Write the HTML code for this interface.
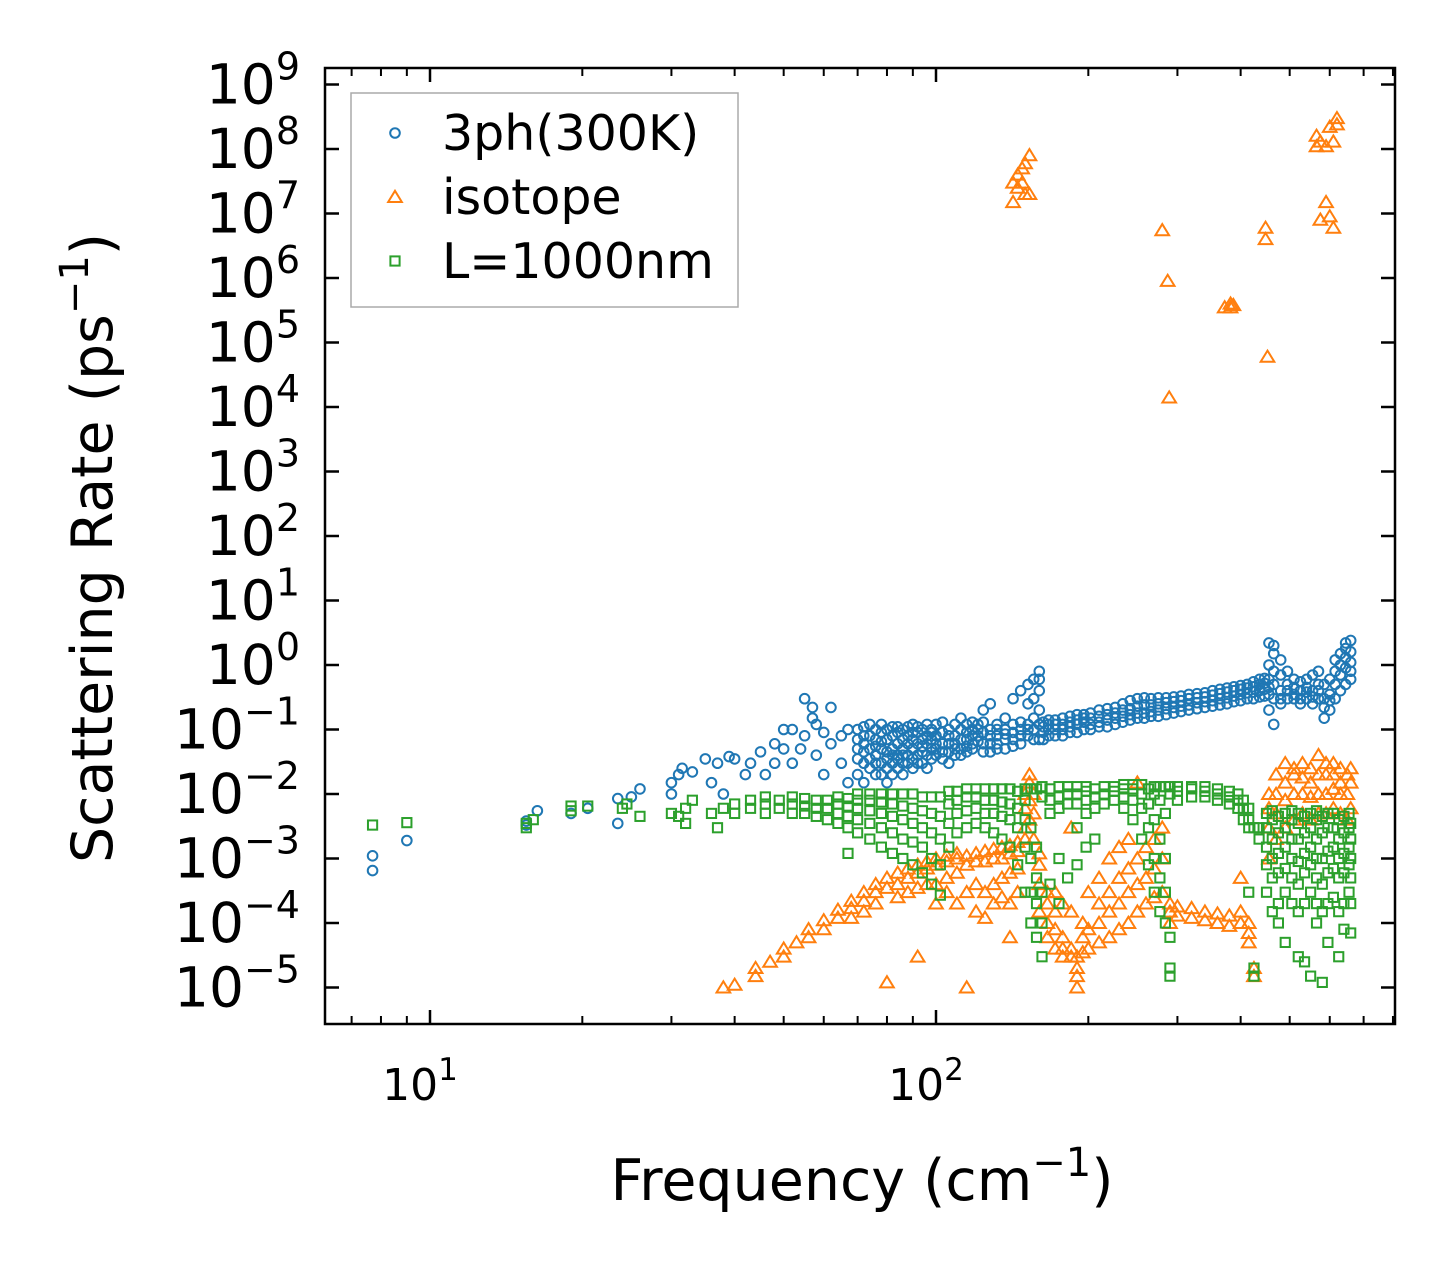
<!DOCTYPE html>
<html><head><meta charset="utf-8">
<style>
html,body{margin:0;padding:0;background:#fff;}
svg{display:block;font-family:"DejaVu Sans","Liberation Sans",sans-serif;}
</style></head>
<body>
<svg id="chart" width="1455" height="1274" viewBox="0 0 1455 1274">
<rect x="0" y="0" width="1455" height="1274" fill="#fff"/>
<g id="marks"></g>
<g id="axes"></g>
</svg>
<script>
// ---------- data (frequency cm^-1, [rates ps^-1]) ----------
const blueData = [
 [7.7,[1.1e-3,6.5e-4]],[9,[1.9e-3]],[15.5,[3.3e-3,3.8e-3]],[16.3,[5.5e-3]],[19,[5e-3]],[20.5,[6e-3]],
 [23.5,[3.5e-3,8.5e-3]],[25,[9e-3]],[26,[1.2e-2]],[30,[1.5e-2,1e-2]],[31,[2e-2]],[31.5,[2.5e-2]],[33,[2.2e-2]],
 [35,[3.5e-2]],[36,[1.5e-2]],[37,[3e-2]],[38,[1e-2]],[39,[3.8e-2]],[40,[3.5e-2]],[42,[2e-2]],[43,[3e-2]],
 [45,[4.5e-2]],[46,[2e-2]],[48,[3e-2,6e-2]],[50,[5e-2,1e-1]],[52,[1e-1,3e-2]],[54,[5e-2]],[55,[3e-1,8e-2]],
 [57,[2.2e-1,1.5e-1]],[58,[1.2e-1,4e-2]],[60,[2e-2,9e-2]],[62,[2.2e-1,6e-2]],[65,[8e-2,3e-2]],[67,[1.5e-2,1e-1]],
 [70,[0.02,0.05,0.1,0.035,0.07]],[72,[0.03,0.06,0.11,0.015,0.08,0.045]],[74,[0.025,0.05,0.08,0.12,0.035]],[76,[0.02,0.04,0.07,0.1,0.03,0.055]],
 [78,[0.03,0.05,0.09,0.12,0.065,0.02]],[80,[0.025,0.045,0.07,0.1,0.015,0.035]],[82,[0.03,0.05,0.08,0.11,0.02,0.04]],
 [84,[0.035,0.06,0.09,0.04,0.025,0.11]],[86,[0.03,0.05,0.07,0.1,0.02,0.04]],[88,[0.04,0.06,0.08,0.03,0.11]],[90,[0.035,0.05,0.07,0.12,0.025,0.09]],
 [92,[0.04,0.06,0.09,0.03,0.11]],[94,[0.045,0.07,0.1,0.03,0.055]],[96,[0.04,0.06,0.08,0.12,0.025]],[98,[0.05,0.07,0.1,0.035,0.09]],
 [100,[0.05,0.08,0.12,0.04,0.06]],[103,[0.06,0.09,0.13,0.045,0.035]],[106,[0.06,0.1,0.045,0.08,0.03]],[109,[0.06,0.08,0.12,0.05,0.04]],
 [112,[0.07,0.1,0.15,0.05,0.04]],[115,[0.07,0.12,0.055,0.09,0.045]],[118,[0.08,0.13,0.06,0.1,0.05]],[121,[0.08,0.12,0.065,0.1]],
 [124,[0.06,0.09,0.13,0.2,0.045]],[128,[0.06,0.1,0.25,0.045,0.08]],[132,[0.06,0.08,0.12,0.05,0.1]],
 [137,[0.07,0.1,0.15,0.05,0.085]],[142,[0.07,0.12,0.3,0.055,0.09]],[147,[0.08,0.13,0.4,0.06,0.1]],[152,[0.08,0.12,0.5,0.25,0.1]],
 [156,[0.1,0.3,0.6,0.07,0.15]],[160,[0.8,0.6,0.12,0.07,0.2,0.4]],[163,[0.07,0.09,0.11,0.13]],[167,[0.08,0.1,0.12,0.14]],
 [172,[0.08,0.1,0.12,0.14]],[178,[0.08,0.1,0.12,0.15]],[184,[0.09,0.11,0.13,0.16]],[190,[0.09,0.12,0.14,0.17]],[196,[0.1,0.13,0.15,0.17]],
 [202,[0.1,0.12,0.15,0.18]],[210,[0.11,0.13,0.16,0.2]],[218,[0.11,0.14,0.17,0.21]],[226,[0.12,0.15,0.18,0.22]],
 [234,[0.13,0.16,0.2,0.25]],[242,[0.14,0.17,0.21,0.28]],[250,[0.15,0.18,0.23,0.3]],[258,[0.15,0.18,0.24,0.31]],
 [266,[0.16,0.19,0.24,0.3]],[275,[0.16,0.2,0.25,0.31]],[285,[0.17,0.21,0.26,0.31]],[295,[0.18,0.22,0.27,0.32]],[305,[0.19,0.23,0.28,0.33]],
 [316,[0.2,0.24,0.3,0.35]],[328,[0.21,0.26,0.31,0.36]],[340,[0.22,0.27,0.32,0.37]],[352,[0.23,0.28,0.34,0.4]],[364,[0.24,0.3,0.36,0.42]],
 [376,[0.25,0.31,0.38,0.44]],[388,[0.27,0.33,0.4,0.46]],[400,[0.28,0.35,0.42,0.48]],[412,[0.3,0.37,0.44,0.5]],[424,[0.3,0.38,0.46,0.55]],
 [436,[0.32,0.4,0.5,0.6]],[446,[0.33,0.42,0.52,0.62]],
 [455,[0.2,0.35,0.6,1.0,2.2,0.45]],[465,[0.12,0.3,0.5,0.8,1.5,2.0]],
 [480,[0.25,0.4,0.7,1.2,0.3]],[495,[0.3,0.5,0.8,0.4]],[510,[0.3,0.45,0.6,0.35]],[525,[0.25,0.4,0.55,0.3]],[540,[0.3,0.45,0.6,0.38]],
 [555,[0.25,0.4,0.7,0.32]],[570,[0.3,0.5,0.8,0.4]],[585,[0.15,0.3,0.5,0.22]],[600,[0.2,0.35,0.6,0.28]],[615,[0.3,0.5,0.8,1.2]],
 [630,[0.4,0.7,1.0,1.5]],[645,[0.5,0.9,1.3,1.8,2.2]],[660,[0.6,1.1,1.6,2.4,0.8]]
];
const orangeData = [
 [142,[1.5e7,3e7]],[145,[2.5e7,4e7]],[148,[5e7,3e7]],[150,[6e7,2e7]],[153,[8e7,2e7]],
 [280,[5.5e6]],[287,[9e5]],[289,[1.4e4]],[372,[3.5e5]],[382,[4e5,3.5e5]],[387,[3.8e5]],
 [448,[4e6,6e6]],[452,[6e4]],[565,[1.6e8,1.1e8]],[575,[1.3e8,8e6]],[590,[1.1e8,1.5e7]],[600,[2.2e8,9e6]],
 [610,[1.3e8,6e6]],[620,[3e8,2.4e8]],
 [38,[1e-5]],[40,[1.1e-5]],[44,[1.5e-5,2e-5]],[47,[2.5e-5]],[50,[3e-5,4e-5]],[53,[5e-5]],[56,[6e-5,8e-5]],
 [60,[8e-5,1.1e-4]],[64,[1.2e-4,1.6e-4]],[68,[1.7e-4,2.2e-4,1.2e-4]],[72,[2.2e-4,3e-4,1.5e-4]],[76,[3e-4,4e-4,2e-4]],
 [80,[3.5e-4,5e-4,1.2e-5]],[84,[4e-4,6e-4,2.5e-4]],[88,[5e-4,7e-4,3e-4]],[92,[6e-4,8e-4,3.5e-4,3e-5]],
 [96,[7e-4,9e-4,4e-4]],[100,[8e-4,1e-3,4e-4,2e-4]],[105,[9e-4,1.1e-3,5e-4,3e-4]],[110,[1e-3,1.2e-3,6e-4,2e-4]],
 [115,[1.1e-3,8e-4,3e-4,1e-5]],[120,[1.2e-3,9e-4,4e-4,1.5e-4]],[125,[1.3e-3,9e-4,3e-4,1.2e-4]],
 [130,[1.4e-3,1e-3,4e-4,2e-4]],[135,[1.5e-3,1e-3,5e-4,2.5e-4]],[140,[1.6e-3,1.2e-3,6e-4,2e-4,6e-5]],
 [145,[1.8e-3,1.3e-3,7e-4,3e-4]],[150,[3e-3,6e-3,1e-2,2e-3]],[153,[8e-3,1.5e-2,2e-2,4e-3]],[156,[1e-2,5e-3,2e-3]],
 [160,[1.2e-3,8e-4,4e-4,1.5e-4]],[166,[3e-4,2e-4,1e-4,6e-5]],[172,[1.5e-4,8e-5,4e-5,3e-4]],[178,[6e-5,4e-5,3e-5,2e-4]],
 [185,[4e-5,3e-5,1.5e-4,3e-3]],[190,[1e-5,1.5e-5,2e-5,3e-5]],[195,[3.5e-5,1e-4,6e-5]],[200,[4e-5,8e-5,3e-4]],
 [210,[5e-5,1e-4,2e-4,5e-4]],[220,[6e-5,1.5e-4,3e-4,1e-3]],[230,[8e-5,2e-4,5e-4,1.5e-3]],[240,[1e-4,3e-4,7e-4,2e-3]],
 [250,[1.5e-4,4e-4,1e-3,1.5e-2]],[260,[2e-4,5e-4,1.5e-3]],[270,[2.5e-4,7e-4,2e-3]],[280,[3e-4,1e-3,3e-3]],
 [290,[2e-4,1.5e-4,1e-4]],[300,[1.8e-4,1.3e-4]],[320,[1.7e-4,1.2e-4]],[340,[1.5e-4,1.1e-4]],[360,[1.4e-4,1e-4]],
 [380,[1.3e-4,9e-5]],[400,[1.5e-4,1e-4,5e-4]],[415,[1e-4,7e-5,5e-5]],[425,[2e-5,1.5e-5]],
 [455,[1e-3,3e-3,6e-3,1e-2]],[470,[2e-3,5e-3,1e-2,2e-2]],[490,[3e-3,8e-3,1.5e-2,3e-2]],[510,[4e-3,1e-2,2e-2,2.5e-2]],
 [530,[5e-3,1e-2,1.8e-2,3e-2]],[550,[4e-3,9e-3,1.5e-2,2.5e-2]],[570,[5e-3,1e-2,2e-2,4e-2]],[590,[5e-3,1e-2,2e-2,3e-2]],
 [610,[6e-3,1.2e-2,2e-2,3e-2]],[630,[5e-3,1e-2,1.5e-2,2.5e-2]],[650,[4e-3,1e-2,2e-2]],[660,[6e-3,1.5e-2,2.5e-2]]
];
const greenData = [
 [7.7,[3.3e-3]],[9,[3.6e-3]],[15.5,[3e-3,3.5e-3]],[16,[4e-3]],[19,[6.5e-3,5.5e-3]],[20.5,[6.5e-3]],[24,[6e-3]],
 [24.5,[7e-3]],[26,[4.5e-3]],[30,[5e-3]],[31,[4.5e-3]],[32,[6e-3,3.5e-3]],[33,[8e-3]],[36,[5e-3]],[37,[3e-3]],
 [38,[6e-3]],[40,[5e-3,7e-3]],[43,[6e-3,8e-3]],[46,[5e-3,7e-3,9e-3]],[49,[6e-3,8e-3]],[52,[5e-3,7e-3,9e-3]],
 [55,[5e-3,6.5e-3,8.5e-3]],[58,[4.5e-3,6e-3,8e-3]],[61,[4e-3,6e-3,8e-3]],[64,[3.5e-3,5e-3,7e-3,9e-3]],
 [67,[3e-3,4.5e-3,6.5e-3,8.5e-3,1.2e-3]],[70,[2.5e-3,4e-3,6e-3,8e-3,1e-2]],[74,[2e-3,3.5e-3,5.5e-3,8e-3,1e-2]],
 [78,[1.5e-3,3e-3,5e-3,7.5e-3,1e-2]],[82,[1.2e-3,2.5e-3,4.5e-3,7e-3,1e-2]],[86,[1e-3,2e-3,4e-3,6.5e-3,1e-2]],
 [90,[8e-4,1.8e-3,3.5e-3,6e-3,1e-2]],[94,[6e-4,1.5e-3,3e-3,5.5e-3,9e-3]],[98,[4e-4,1e-3,2.5e-3,5e-3,9e-3]],
 [102,[2.7e-4,8e-4,2e-3,4.5e-3,9e-3]],[106,[1.5e-3,3.5e-3,7e-3,1.1e-2]],[110,[2.5e-3,5e-3,8e-3,1.1e-2]],
 [115,[3e-3,5.5e-3,9e-3,1.2e-2]],[120,[3.5e-3,6e-3,9e-3,1.2e-2]],[125,[3e-3,5e-3,8e-3,1.2e-2]],
 [130,[2.5e-3,5e-3,8e-3,1.2e-2]],[135,[2e-3,4.5e-3,7.5e-3,1.2e-2]],[140,[1.5e-3,4e-3,7e-3,1.2e-2]],
 [145,[8e-4,3e-3,6e-3,1.1e-2]],[150,[3e-4,1.5e-3,4e-3,8e-3,1.2e-2]],[154,[1e-4,3e-4,1e-3,3e-3,1.2e-2]],
 [158,[6e-5,2e-4,5e-4,1.5e-3,1.2e-2]],[162,[3e-5,1e-4,3e-4,1.3e-2,9e-3]],[168,[5e-3,8e-3,1.2e-2,4e-4]],
 [175,[6e-3,9e-3,1.3e-2,1e-3,2e-4]],[182,[7e-3,1e-2,1.3e-2,5e-4]],[190,[3e-3,7e-3,1e-2,1.3e-2,8e-4]],
 [198,[5e-3,8e-3,1.1e-2,1.3e-2,1.5e-3]],[206,[6e-3,9e-3,1.2e-2,2e-3]],[215,[7e-3,1e-2,1.3e-2]],
 [225,[8e-3,1.1e-2,1.3e-2]],[235,[6e-3,9e-3,1.2e-2,1.4e-2]],[245,[4e-3,8e-3,1.2e-2,1.4e-2]],
 [255,[2e-3,6e-3,1e-2,1.4e-2]],[263,[8e-4,3e-3,7e-3,1.2e-2]],[270,[3e-4,1e-3,4e-3,1e-2,1.3e-2]],
 [277,[1.5e-4,5e-4,2e-3,8e-3,1.3e-2]],[284,[1e-4,3e-4,1e-3,5e-3,1.3e-2]],[290,[2e-5,1.5e-5,6e-5,1e-2,1.3e-2]],
 [300,[8e-3,1.1e-2,1.3e-2]],[320,[9e-3,1.2e-2,1.3e-2]],[340,[9e-3,1.1e-2,1.3e-2]],[360,[8e-3,1e-2,1.2e-2]],
 [380,[7e-3,9e-3,1.1e-2]],[395,[6e-3,8e-3,1e-2]],[405,[4e-3,6e-3,8e-3]],[415,[3e-3,4e-3,6e-3,3e-4]],
 [425,[2e-5,1.5e-5,3e-3]],[435,[2e-3,3e-3]],
 [450,[3e-4,8e-4,1.5e-3,3e-3,5e-3]],[462,[1.5e-4,5e-4,1e-3,2e-3,4e-3,5.5e-3]],[475,[2e-4,6e-4,1.2e-3,2.5e-3,4.5e-3,1e-4]],
 [490,[3e-4,7e-4,1.5e-3,3e-3,5e-3,5e-5]],[505,[2e-4,5e-4,1e-3,2e-3,4e-3,5.5e-3]],[520,[1.5e-4,4e-4,9e-4,2e-3,3.5e-3,5e-3,3e-5]],
 [535,[2e-4,6e-4,1.2e-3,2.5e-3,4.5e-3,2.5e-5]],[550,[3e-4,8e-4,1.5e-3,3e-3,5e-3,1.5e-5]],[565,[2e-4,5e-4,1e-3,2e-3,4e-3,5.5e-3,1e-4]],
 [580,[1.5e-4,4e-4,1e-3,2.5e-3,4.5e-3,1.2e-5]],[595,[2e-4,6e-4,1.3e-3,3e-3,5e-3,5e-5]],[610,[2.5e-4,7e-4,1.5e-3,3e-3,5e-3]],
 [625,[1.5e-4,5e-4,1e-3,2e-3,4e-3,3e-5]],[640,[2e-4,6e-4,1.2e-3,2.5e-3,4.5e-3,8e-5]],[655,[3e-4,8e-4,1.5e-3,3e-3,5e-3]],
 [660,[2e-4,5e-4,1e-3,2e-3,3.5e-3,7e-5]]
];
const yTickExp = [-5,-4,-3,-2,-1,0,1,2,3,4,5,6,7,8,9];
const xTickExp = [1,2];
const xMinorVals = [7,8,9,20,30,40,50,60,70,80,90,200,300,400,500,600,700,800];

// ---------- scales ----------
const L=325,R=1395,T=68,B=1024;
const X0=430, XD=506;
const Y0=665, YD=64.5;
function xs(f){return X0+(Math.log10(f)-1)*XD;}
function ys(r){return Y0-Math.log10(r)*YD;}

const NS="http://www.w3.org/2000/svg";
function mk(tag,attrs,parent){const e=document.createElementNS(NS,tag);for(const k in attrs)e.setAttribute(k,attrs[k]);parent.appendChild(e);return e;}
const svg=document.getElementById('chart');
const marks=document.getElementById('marks');
const axes=document.getElementById('axes');

function circle(g,x,y){return mk('circle',{cx:x,cy:y,r:4.8,fill:'none',stroke:'#1f77b4','stroke-width':2},g);}
function tri(g,x,y){const s=6.2;return mk('polygon',{points:`${x},${y-s} ${x-s*1.1},${y+s*0.8} ${x+s*1.1},${y+s*0.8}`,fill:'none',stroke:'#ff7f0e','stroke-width':2},g);}
function sq(g,x,y){const s=4.6;return mk('rect',{x:x-s,y:y-s,width:2*s,height:2*s,fill:'none',stroke:'#2ca02c','stroke-width':2},g);}

function drawSeries(data,fn,name){
  const g=mk('g',{},marks);
  
  
  data.forEach(([f,rs])=>rs.forEach(r=>{
    const e=fn(g,xs(f),ys(r));
    
    
  }));
}
drawSeries(blueData,circle,'3ph');
drawSeries(orangeData,tri,'isotope');
drawSeries(greenData,sq,'boundary');

const frame=mk('rect',{x:L,y:T,width:R-L,height:B-T,fill:'none',stroke:'#000','stroke-width':2.5},axes);



yTickExp.forEach(p=>{
  const y=ys(Math.pow(10,p));
  mk('line',{x1:L,x2:L+14,y1:y,y2:y,stroke:'#000','stroke-width':2.5},axes);
  mk('line',{x1:R,x2:R-14,y1:y,y2:y,stroke:'#000','stroke-width':2.5},axes);
  const t=mk('text',{x:300,y:y+19,'text-anchor':'end','font-size':55,fill:'#000'},axes);
  
  
  t.textContent='10';
  const s=mk('tspan',{dy:-24,'font-size':38},t);
  s.textContent=(p<0?'\u2212'+(-p):String(p));
});
xTickExp.forEach(p=>{
  const x=xs(Math.pow(10,p));
  mk('line',{x1:x,x2:x,y1:B,y2:B-14,stroke:'#000','stroke-width':2.5},axes);
  mk('line',{x1:x,x2:x,y1:T,y2:T+14,stroke:'#000','stroke-width':2.5},axes);
  const t=mk('text',{x:x-10,y:1100,'text-anchor':'middle','font-size':44,fill:'#000'},axes);
  
  
  t.textContent='10';
  const s=mk('tspan',{dy:-20,'font-size':31},t);
  s.textContent=String(p);
});
xMinorVals.forEach(v=>{
  const x=xs(v); if(x<L||x>R)return;
  mk('line',{x1:x,x2:x,y1:B,y2:B-8,stroke:'#000','stroke-width':2},axes);
  mk('line',{x1:x,x2:x,y1:T,y2:T+8,stroke:'#000','stroke-width':2},axes);
});

const xt=mk('text',{x:862,y:1200,'text-anchor':'middle','font-size':57},svg);


xt.innerHTML='Frequency (cm<tspan dy="-24" font-size="40">\u22121</tspan><tspan dy="24">)</tspan>';

const yt=mk('text',{transform:'translate(112,548) rotate(-90)','text-anchor':'middle','font-size':57},svg);


yt.innerHTML='Scattering Rate (ps<tspan dy="-24" font-size="40">\u22121</tspan><tspan dy="24">)</tspan>';

const lg=mk('g',{},svg);


mk('rect',{x:351,y:93,width:387,height:214,fill:'#fff',stroke:'#aaa','stroke-width':1.5},lg);
[['3ph(300K)',circle,133],['isotope',tri,197],['L=1000nm',sq,261]].forEach(([lab,fn,y])=>{
  const e=fn(lg,395,y);
  
  
  const t=mk('text',{x:442,y:y+17,'font-size':49,fill:'#000'},lg);
  
  
  t.textContent=lab;
});
</script>
</body></html>
